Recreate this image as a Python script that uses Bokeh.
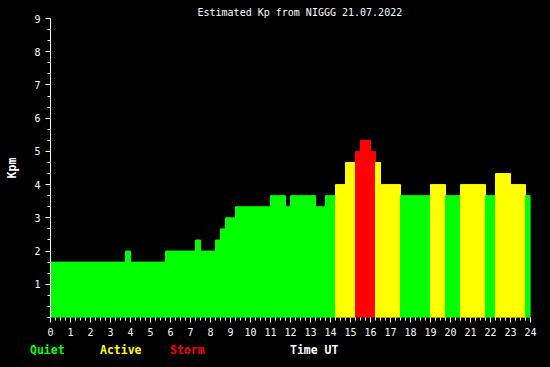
from bokeh.plotting import figure
from bokeh.models import FixedTicker, Range1d, ColumnDataSource, Div
from bokeh.layouts import column
from bokeh.embed import file_html
from bokeh.resources import INLINE

# 15-minute step segments of estimated Kp (hours UT)
seg_start = [0.0, 3.75, 4.0, 5.75, 7.25, 7.5, 8.25, 8.5, 8.75, 9.25, 11.0, 11.75,
             12.0, 13.25, 13.75, 14.25, 14.75, 15.25, 15.5, 16.0, 16.25, 16.5,
             17.5, 19.0, 19.75, 20.5, 21.75, 22.25, 23.0, 23.75]
seg_end = seg_start[1:] + [24.0]
kp = [1.667, 2.0, 1.667, 2.0, 2.333, 2.0, 2.333, 2.667, 3.0, 3.333, 3.667, 3.333,
      3.667, 3.333, 3.667, 4.0, 4.667, 5.0, 5.333, 5.0, 4.667, 4.0,
      3.667, 4.0, 3.667, 4.0, 3.667, 4.333, 4.0, 3.667]

x_ticks = list(range(0, 25))
y_ticks = list(range(1, 10))
title_text = "Estimated Kp from NIGGG 21.07.2022"
legend_names = ["Quiet", "Active", "Storm", "Time UT"]
legend_colors = ["#00ff00", "#ffff00", "#ff0000", "#ffffff"]
legend_left_px = [30, 100, 170, 290]

def level_color(v):
    if v >= 5.0 - 1e-6:
        return legend_colors[2]
    if v >= 4.0 - 1e-6:
        return legend_colors[1]
    return legend_colors[0]

colors = [level_color(v) for v in kp]
src = ColumnDataSource(dict(left=seg_start, right=seg_end, top=kp,
                            bottom=[0] * len(kp), color=colors))

FONT = "DejaVu Sans Mono"

p = figure(width=550, height=340, output_backend="svg", toolbar_location=None,
           x_range=Range1d(0, 24), y_range=Range1d(0, 9),
           min_border_left=50, min_border_right=20, min_border_top=18,
           min_border_bottom=23, background_fill_color="black",
           border_fill_color="black", outline_line_color=None)
p.xgrid.visible = False
p.ygrid.visible = False

p.title.text = title_text
p.title.text_color = "white"
p.title.text_font = FONT
p.title.text_font_size = "10px"
p.title.text_font_style = "normal"
p.title.align = "left"
p.title.offset = 147
p.title.standoff = 2

p.quad(left="left", right="right", top="top", bottom="bottom", source=src,
       fill_color="color", line_color="color", line_width=1)

xa = p.xaxis[0]
xa.ticker = FixedTicker(ticks=x_ticks,
                        minor_ticks=[i / 4 for i in range(0, 97)])
xa.axis_line_color = None
xa.major_tick_line_color = "white"
xa.minor_tick_line_color = "white"
xa.major_tick_in = 0
xa.major_tick_out = 5
xa.minor_tick_in = 0
xa.minor_tick_out = 3
xa.major_label_text_color = "white"
xa.major_label_text_font = FONT
xa.major_label_text_font_size = "10px"
xa.major_label_standoff = 5

ya = p.yaxis[0]
ya.ticker = FixedTicker(ticks=y_ticks,
                        minor_ticks=[i / 3 for i in range(0, 28)])
ya.axis_line_color = "white"
ya.major_tick_line_color = "white"
ya.minor_tick_line_color = "white"
ya.major_tick_in = 0
ya.major_tick_out = 5
ya.minor_tick_in = 0
ya.minor_tick_out = 3
ya.major_label_text_color = "white"
ya.major_label_text_font = FONT
ya.major_label_text_font_size = "10px"
ya.major_label_standoff = 5
ya.axis_label = "Kpm"
ya.axis_label_text_color = "white"
ya.axis_label_text_font = FONT
ya.axis_label_text_font_size = "11.5px"
ya.axis_label_text_font_style = "bold"
ya.axis_label_standoff = 12

spans = "".join(
    f'<span style="position:absolute;left:{lx}px;top:4px;color:{c};">{n}</span>'
    for n, c, lx in zip(legend_names, legend_colors, legend_left_px))
legend_html = (
    '<div style="position:relative;width:550px;height:27px;background:#000;'
    f"font-family:'{FONT}';font-weight:bold;font-size:11.5px;line-height:12px;"
    f'white-space:pre;">{spans}</div>')
legend_div = Div(text=legend_html, width=550, height=27,
                 styles={"background-color": "black", "margin": "0",
                         "padding": "0"})

layout = column(p, legend_div, spacing=0)
html = file_html(layout, INLINE)
html = html.replace("<head>", "<head><style>html,body{background:#000;margin:0;}</style>", 1)
open("out.html", "w").write(html)
